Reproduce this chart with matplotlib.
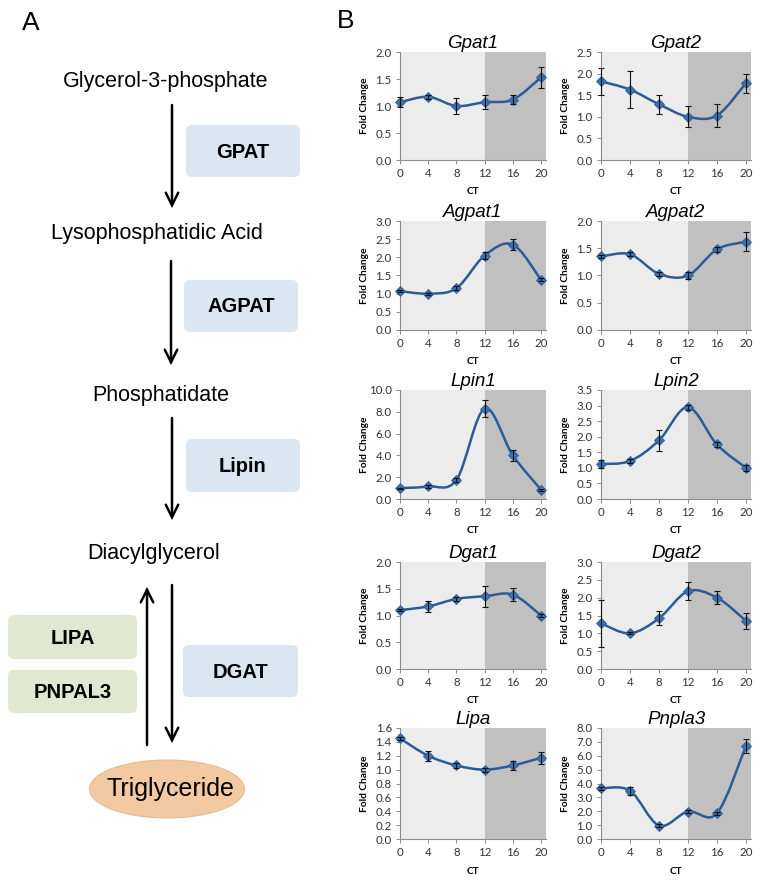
#! /usr/bin/env python
# coding=utf8

'''
Panel A: TG synthesis pathway. Panel B: circadian qPCR profiles.
'''

import numpy as np
import matplotlib
matplotlib.use('Agg')
import matplotlib.pyplot as plt
from matplotlib.path import Path
from matplotlib.patches import PathPatch, FancyBboxPatch, Ellipse
from matplotlib.ticker import FormatStrFormatter

# Data {{{
ct = [0, 4, 8, 12, 16, 20]
genes = ['Gpat1', 'Gpat2', 'Agpat1', 'Agpat2', 'Lpin1', 'Lpin2',
         'Dgat1', 'Dgat2', 'Lipa', 'Pnpla3']

gpat1 = [1.07, 1.17, 1.00, 1.07, 1.12, 1.53]
gpat1_err = [0.09, 0.04, 0.15, 0.13, 0.08, 0.20]
gpat2 = [1.82, 1.63, 1.29, 1.00, 1.03, 1.78]
gpat2_err = [0.32, 0.43, 0.22, 0.24, 0.26, 0.22]
agpat1 = [1.07, 1.00, 1.15, 2.05, 2.35, 1.38]
agpat1_err = [0.03, 0.03, 0.06, 0.10, 0.15, 0.04]
agpat2 = [1.35, 1.39, 1.03, 1.00, 1.48, 1.62]
agpat2_err = [0.03, 0.04, 0.04, 0.07, 0.05, 0.17]
lpin1 = [1.00, 1.15, 1.75, 8.30, 4.00, 0.85]
lpin1_err = [0.05, 0.10, 0.15, 0.75, 0.50, 0.10]
lpin2 = [1.12, 1.22, 1.88, 2.95, 1.75, 1.00]
lpin2_err = [0.13, 0.08, 0.33, 0.08, 0.07, 0.10]
dgat1 = [1.10, 1.17, 1.31, 1.36, 1.39, 1.00]
dgat1_err = [0.02, 0.10, 0.03, 0.20, 0.12, 0.02]
dgat2 = [1.28, 1.00, 1.42, 2.18, 2.00, 1.35]
dgat2_err = [0.65, 0.03, 0.20, 0.25, 0.18, 0.23]
lipa = [1.45, 1.20, 1.06, 1.00, 1.06, 1.17]
lipa_err = [0.02, 0.07, 0.03, 0.03, 0.07, 0.09]
pnpla3 = [3.65, 3.48, 0.97, 1.98, 1.85, 6.70]
pnpla3_err = [0.10, 0.30, 0.10, 0.10, 0.10, 0.50]

values = [gpat1, gpat2, agpat1, agpat2, lpin1, lpin2, dgat1, dgat2, lipa, pnpla3]
errors = [gpat1_err, gpat2_err, agpat1_err, agpat2_err, lpin1_err, lpin2_err,
          dgat1_err, dgat2_err, lipa_err, pnpla3_err]
ymax = [2.0, 2.5, 3.0, 2.0, 10.0, 3.5, 2.0, 3.0, 1.6, 8.0]
ystep = [0.5, 0.5, 0.5, 0.5, 2.0, 0.5, 0.5, 0.5, 0.2, 1.0]
#}}}

W, H = 762, 880
fig = plt.figure(figsize=(W / 100., H / 100.), dpi=100)

def box(x0, y0, x1, y1):
    # pixel box (top-left origin) -> figure fraction
    return [x0 / W, 1 - y1 / H, (x1 - x0) / W, (y1 - y0) / H]

def smooth_path(x, y):
    # excel-like smoothed line (catmull-rom as cubic bezier)
    p = np.column_stack([x, y]).astype(float)
    n = len(p)
    verts = [p[0]]
    codes = [Path.MOVETO]
    for i in range(n - 1):
        a = p[max(i - 1, 0)]
        b = p[i]
        c = p[i + 1]
        d = p[min(i + 2, n - 1)]
        verts += [b + (c - a) / 6., c - (d - b) / 6., c]
        codes += [Path.CURVE4] * 3
    return Path(verts, codes)

# Panel A {{{
axa = fig.add_axes([0, 0, 1, 1])
axa.set_xlim(0, W)
axa.set_ylim(H, 0)
axa.axis('off')

sans = 'Liberation Sans'
axa.text(31, 23, 'A', fontsize=19, family=sans, ha='center', va='center')
axa.text(346, 21, 'B', fontsize=19, family=sans, ha='center', va='center')

for label, x, y in [('Glycerol-3-phosphate', 166, 81),
                    ('Lysophosphatidic Acid', 157, 233),
                    ('Phosphatidate', 161, 395),
                    ('Diacylglycerol', 154, 553)]:
    axa.text(x, y, label, fontsize=15.5, family=sans, ha='center', va='center')

blue_box = '#dce6f1'
green_box = '#e0e9cf'
for label, x0, y0, x1, y1, col in [('GPAT', 186, 125, 300, 177, blue_box),
                                   ('AGPAT', 184, 280, 298, 332, blue_box),
                                   ('Lipin', 186, 439, 300, 492, blue_box),
                                   ('DGAT', 183, 645, 298, 697, blue_box),
                                   ('LIPA', 8, 615, 137, 659, green_box),
                                   ('PNPAL3', 8, 670, 137, 713, green_box)]:
    axa.add_patch(FancyBboxPatch((x0 + 6, y0 + 6), x1 - x0 - 12, y1 - y0 - 12,
                                 boxstyle='round,pad=6', fc=col, ec='none'))
    axa.text((x0 + x1) / 2., (y0 + y1) / 2. + 1, label, fontsize=14.5,
             family=sans, weight='bold', ha='center', va='center')

arrow_kw = dict(arrowstyle='->,head_length=0.9,head_width=0.45', lw=1.8, color='black',
                shrinkA=0, shrinkB=0, capstyle='round', joinstyle='miter')
for x, y0, y1 in [(172, 105, 208), (171, 261, 365), (172, 418, 520), (172, 585, 743)]:
    axa.annotate('', xy=(x, y1), xytext=(x, y0), arrowprops=arrow_kw)
axa.annotate('', xy=(147, 587), xytext=(147, 745), arrowprops=arrow_kw)

axa.add_patch(Ellipse((167, 789), 155, 58, fc='#f2c9a0', ec='#e6bb90', lw=0.8))
axa.text(170, 789, 'Triglyceride', fontsize=18, family=sans, ha='center', va='center')
#}}}

# Panel B {{{
rows = [(52, 160), (221, 330), (390, 499), (562, 669), (728, 839)]
cols = [(400, 546), (601, 751)]
line_col = '#2b5c98'
tick_font = 'Lato'

for k, gene in enumerate(genes):
    r, c = k // 2, k % 2
    ax = fig.add_axes(box(cols[c][0], rows[r][0], cols[c][1], rows[r][1]))
    ax.axvspan(0, 12, color='#ececec', lw=0, zorder=0)
    ax.axvspan(12, 20.7, color='#c0c0c0', lw=0, zorder=0)
    ax.set_xlim(0, 20.7)
    ax.set_ylim(0, ymax[k])
    ax.set_xticks(ct)
    ax.set_yticks(np.arange(0, ymax[k] + ystep[k] / 2., ystep[k]))
    ax.yaxis.set_major_formatter(FormatStrFormatter('%.1f'))

    ax.add_patch(PathPatch(smooth_path(ct, values[k]), fc='none', ec=line_col,
                           lw=1.8, zorder=3, capstyle='round'))
    ax.plot(ct, values[k], ls='none', marker='D', ms=5, color='#3d70ad',
            mec=line_col, mew=0.6, zorder=4, clip_on=False)
    ax.errorbar(ct, values[k], yerr=errors[k], fmt='none', ecolor='#111111',
                elinewidth=0.8, capsize=2, capthick=0.8, zorder=5, clip_on=False)

    for s in ['top', 'right']:
        ax.spines[s].set_visible(False)
    for s in ['left', 'bottom']:
        ax.spines[s].set_color('#8c8c8c')
        ax.spines[s].set_linewidth(0.8)
    ax.tick_params(direction='out', length=3, width=0.7, color='#8c8c8c',
                   labelsize=8.3, labelcolor='#333333', pad=3)
    for t in ax.get_xticklabels() + ax.get_yticklabels():
        t.set_family(tick_font)

    ax.set_title(gene, fontsize=13.5, style='italic', family=sans, pad=3)
    ax.set_ylabel('Fold Change', fontsize=7.3, weight='bold', family=tick_font)
    ax.set_xlabel('CT', fontsize=7.3, weight='bold', family=tick_font)
    ax.yaxis.set_label_coords(-0.21, 0.5)
    ax.xaxis.set_label_coords(0.5, -0.25)
#}}}

fig.savefig('out.png', dpi=100)
